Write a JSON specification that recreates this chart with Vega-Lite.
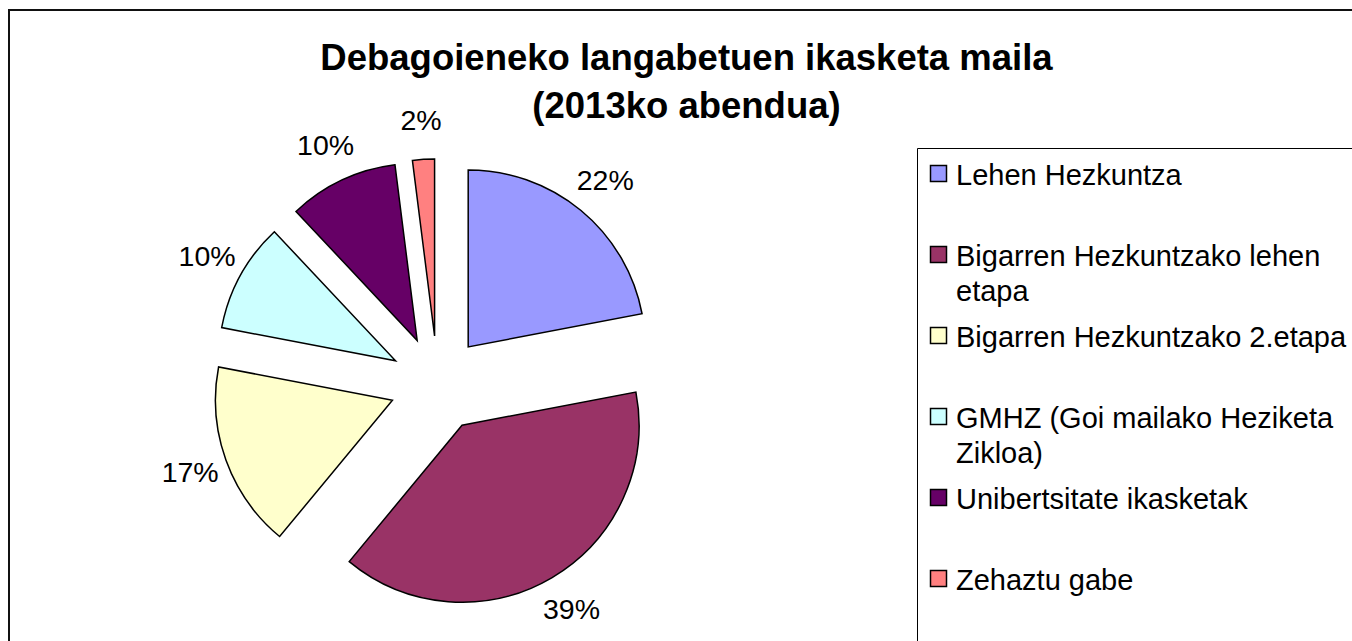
{
  "$schema": "https://vega.github.io/schema/vega-lite/v6.json",
  "width": 1349,
  "height": 637,
  "autosize": {"type": "none"},
  "padding": {"left": 9, "top": 10, "right": -6, "bottom": -6},
  "background": "white",
  "view": {"stroke": "#111", "strokeWidth": 2, "fill": "white"},
  "title": {
    "text": ["Debagoieneko langabetuen ikasketa maila", "(2013ko abendua)"],
    "font": "Liberation Sans",
    "fontSize": 36.5,
    "fontWeight": "bold",
    "lineHeight": 48,
    "color": "black",
    "anchor": "middle",
    "dx": 3,
    "offset": -115
  },
  "data": {
    "values": [
      {"maila": "Lehen Hezkuntza", "balioa": 0.22, "ordena": 1},
      {"maila": "Bigarren Hezkuntzako lehen etapa", "balioa": 0.39, "ordena": 2},
      {"maila": "Bigarren Hezkuntzako 2.etapa", "balioa": 0.17, "ordena": 3},
      {"maila": "GMHZ (Goi mailako Heziketa Zikloa)", "balioa": 0.10, "ordena": 4},
      {"maila": "Unibertsitate ikasketak", "balioa": 0.10, "ordena": 5},
      {"maila": "Zehaztu gabe", "balioa": 0.02, "ordena": 6}
    ]
  },
  "transform": [
    {"window": [{"op": "sum", "field": "balioa", "as": "amaiera"}], "sort": [{"field": "ordena"}], "frame": [null, 0]},
    {"calculate": "datum.amaiera - datum.balioa", "as": "hasiera"},
    {"calculate": "datum.amaiera - datum.balioa / 2", "as": "erdia"},
    {"calculate": "sin(2 * PI * datum.erdia)", "as": "ex"},
    {"calculate": "cos(2 * PI * datum.erdia)", "as": "ey"}
  ],
  "encoding": {
    "x": {"field": "ex", "type": "quantitative", "stack": false, "axis": null,
      "scale": {"domain": [-1, 1], "range": [380.6, 476.6], "nice": false, "zero": false}},
    "y": {"field": "ey", "type": "quantitative", "stack": false, "axis": null,
      "scale": {"domain": [-1, 1], "range": [421.9, 325.9], "nice": false, "zero": false}}
  },
  "layer": [
    {
      "mark": {"type": "arc", "outerRadius": 177, "stroke": "black", "strokeWidth": 1.5},
      "encoding": {
        "theta": {"field": "hasiera", "type": "quantitative", "stack": false, "scale": {"domain": [0, 1]}},
        "theta2": {"field": "amaiera"},
        "color": {
          "field": "maila",
          "type": "nominal",
          "sort": null,
          "scale": {
            "domain": ["Lehen Hezkuntza", "Bigarren Hezkuntzako lehen etapa", "Bigarren Hezkuntzako 2.etapa",
                       "GMHZ (Goi mailako Heziketa Zikloa)", "Unibertsitate ikasketak", "Zehaztu gabe"],
            "range": ["#9999FF", "#993366", "#FFFFCC", "#CCFFFF", "#660066", "#FF8080"]
          },
          "legend": {
            "title": null,
            "orient": "none",
            "legendX": 908,
            "legendY": 138,
            "strokeColor": "black",
            "fillColor": "white",
            "padding": 11,
            "symbolType": "square",
            "symbolSize": 256,
            "symbolOffset": -4,
            "symbolStrokeColor": "black",
            "symbolStrokeWidth": 1.5,
            "symbolOpacity": 1,
            "labelFont": "Liberation Sans",
            "labelFontSize": 29,
            "labelColor": "black",
            "labelLimit": 0,
            "labelOffset": 3,
            "labelBaseline": "top",
            "rowPadding": 14,
            "labelExpr": "datum.label == 'Bigarren Hezkuntzako lehen etapa' ? ['Bigarren Hezkuntzako lehen', 'etapa'] : datum.label == 'GMHZ (Goi mailako Heziketa Zikloa)' ? ['GMHZ (Goi mailako Heziketa', 'Zikloa)'] : [datum.label, '']"
          }
        }
      }
    },
    {
      "mark": {"type": "text", "radius": 215, "font": "Liberation Sans", "fontSize": 28.5, "color": "black"},
      "encoding": {
        "theta": {"field": "erdia", "type": "quantitative", "stack": false, "scale": {"domain": [0, 1]}},
        "text": {"field": "balioa", "type": "quantitative", "format": ".0%"}
      }
    }
  ],
  "config": {
    "style": {"guide-label": {"lineHeight": 35, "dy": -12}}
  }
}
